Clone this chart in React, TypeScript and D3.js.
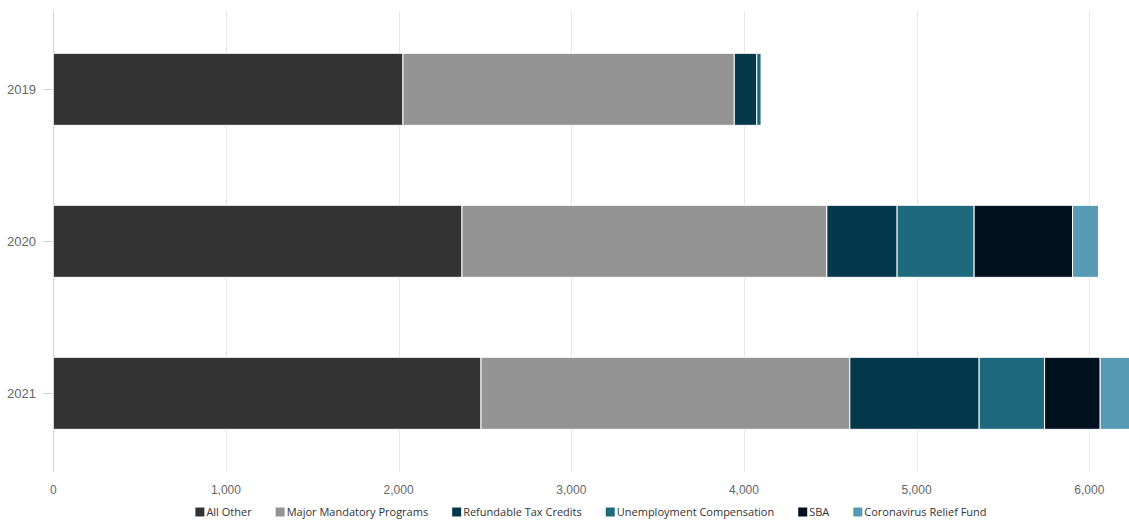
import React, { useEffect, useRef } from "react";
import * as d3 from "d3";

const years = ["2019", "2020", "2021"];
const seriesNames = [
  "All Other",
  "Major Mandatory Programs",
  "Refundable Tax Credits",
  "Unemployment Compensation",
  "SBA",
  "Coronavirus Relief Fund",
];
const allOther = [2025, 2367, 2477];
const majorMandatory = [1919, 2113, 2136];
const refundableTax = [130, 407, 749];
const unemployment = [25, 446, 379];
const sba = [0, 570, 322];
const coronavirusRelief = [0, 150, 240];
const xTicks = [0, 1000, 2000, 3000, 4000, 5000, 6000];
const colors = ["#333333", "#949494", "#03394b", "#1f697c", "#02111f", "#569ab3"];

const W = 1129;
const H = 521;

export default function App() {
  const ref = useRef<SVGSVGElement>(null);

  useEffect(() => {
    const svg = d3.select(ref.current);
    svg.selectAll("*").remove();

    const values = [allOther, majorMandatory, refundableTax, unemployment, sba, coronavirusRelief];
    const rows = years.map((y, i) => {
      const r: any = { year: y };
      seriesNames.forEach((s, k) => (r[s] = values[k][i]));
      return r;
    });
    const stacked = d3.stack().keys(seriesNames)(rows);

    const x = d3.scaleLinear().domain([0, 6000]).range([53.3, 1089.3]);
    const y = d3.scaleBand().domain(years).range([13.3, 469.3]).paddingInner(0.526).paddingOuter(0.263);
    const plotTop = 11;
    const plotBottom = 472;

    // gridlines
    svg
      .append("g")
      .selectAll("line")
      .data(xTicks.filter((t) => t > 0))
      .join("line")
      .attr("x1", (d) => Math.round(x(d)) + 0.5)
      .attr("x2", (d) => Math.round(x(d)) + 0.5)
      .attr("y1", plotTop)
      .attr("y2", plotBottom)
      .attr("stroke", "#e6e6e6")
      .attr("stroke-width", 1);

    // bars
    const clipId = "plotclip";
    svg
      .append("clipPath")
      .attr("id", clipId)
      .append("rect")
      .attr("x", 0)
      .attr("y", 0)
      .attr("width", W)
      .attr("height", plotBottom);

    svg
      .append("g")
      .attr("clip-path", `url(#${clipId})`)
      .selectAll("g")
      .data(stacked)
      .join("g")
      .attr("fill", (_d, i) => colors[i])
      .selectAll("rect")
      .data((d) => d.filter((p) => p[1] - p[0] > 0))
      .join("rect")
      .attr("x", (p) => x(p[0]))
      .attr("width", (p) => x(p[1]) - x(p[0]))
      .attr("y", (p: any) => y(p.data.year)!)
      .attr("height", y.bandwidth())
      .attr("stroke", "#ffffff")
      .attr("stroke-width", 1);

    // y axis line
    svg
      .append("line")
      .attr("x1", Math.round(x(0)) + 0.5)
      .attr("x2", Math.round(x(0)) + 0.5)
      .attr("y1", plotTop)
      .attr("y2", plotBottom)
      .attr("stroke", "#ccd6eb");

    // y ticks and labels
    const yg = svg.append("g");
    years.forEach((yr) => {
      const cy = y(yr)! + y.bandwidth() / 2;
      yg.append("line")
        .attr("x1", 43)
        .attr("x2", 53)
        .attr("y1", Math.round(cy) + 0.5)
        .attr("y2", Math.round(cy) + 0.5)
        .attr("stroke", "#ccd6eb");
      yg.append("text")
        .attr("x", 36)
        .attr("y", cy)
        .attr("dy", "0.35em")
        .attr("text-anchor", "end")
        .attr("fill", "#666666")
        .attr("font-family", "'Liberation Sans', Arial, sans-serif")
        .attr("font-size", 13)
        .text(yr);
    });

    // x labels
    svg
      .append("g")
      .selectAll("text")
      .data(xTicks)
      .join("text")
      .attr("x", (d) => x(d))
      .attr("y", 490)
      .attr("dy", "0.35em")
      .attr("text-anchor", "middle")
      .attr("fill", "#666666")
      .attr("font-family", "'Liberation Sans', Arial, sans-serif")
      .attr("font-size", 12)
      .text((d) => d3.format(",")(d));

    // legend
    const lg = svg.append("g");
    const items = seriesNames.map((name, i) => {
      const g = lg.append("g");
      g.append("rect").attr("width", 9).attr("height", 9).attr("y", -4.5).attr("fill", colors[i]);
      const t = g
        .append("text")
        .attr("x", 11)
        .attr("dy", "0.35em")
        .attr("fill", "#333333")
        .attr("font-family", "'Open Sans', sans-serif")
        .attr("font-size", 11)
        .text(name);
      const w = (t.node() as SVGTextElement).getComputedTextLength();
      return { g, w: 11 + w };
    });
    const gap = 24;
    const total = d3.sum(items, (d) => d.w) + gap * (items.length - 1);
    let cx = 591 - total / 2;
    items.forEach((it) => {
      it.g.attr("transform", `translate(${cx},512)`);
      cx += it.w + gap;
    });
  }, []);

  return (
    <svg
      ref={ref}
      width={W}
      height={H}
      style={{ position: "absolute", left: 0, top: 0, background: "#ffffff", overflow: "hidden" }}
    />
  );
}
